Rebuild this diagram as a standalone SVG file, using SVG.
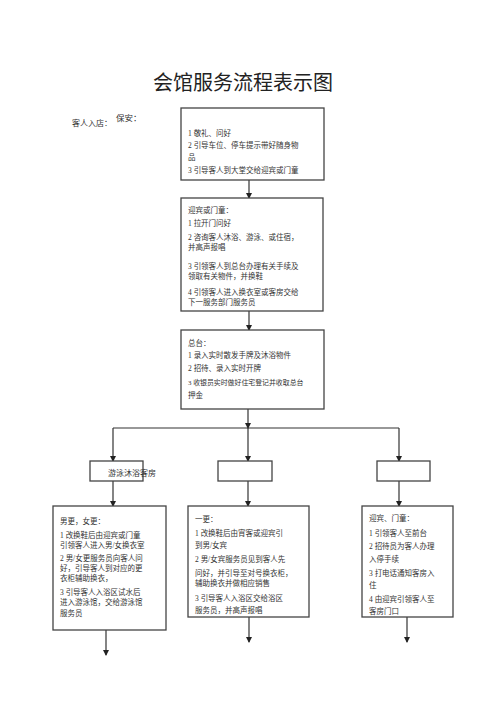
<svg xmlns="http://www.w3.org/2000/svg" width="500" height="708" viewBox="0 0 500 708">
<defs>
<marker id="ah" markerWidth="6" markerHeight="6" refX="5" refY="3" orient="auto" markerUnits="userSpaceOnUse">
<path d="M0,0 L6,3 L0,6 z" fill="#222"/>
</marker>
<style>
.box{fill:#fff;stroke:#444;stroke-width:1.3}
.t{font-family:"Liberation Serif","Noto Sans CJK SC",serif;fill:#333;font-size:7.5px}
.s{font-size:6.9px}
.c{stroke:#333;stroke-width:1.2;fill:none}
.a{marker-end:url(#ah)}
</style>
</defs>
<rect width="500" height="708" fill="#fff"/>
<text x="243" y="90" text-anchor="middle" font-family="Liberation Serif,'Noto Sans CJK SC',serif" font-size="20" fill="#222">会馆服务流程表示图</text>
<text x="72" y="126" class="t" style="font-size:8px">客人入店：</text>
<text x="116" y="121" class="t" style="font-size:8.5px">保安：</text>

<g id="connectors">
<line class="c a" x1="249" y1="180" x2="249" y2="198"/>
<line class="c a" x1="249" y1="311" x2="249" y2="330"/>
<line class="c a" x1="248" y1="409" x2="248" y2="428"/>
<line class="c" x1="113" y1="428" x2="399" y2="428"/>
<line class="c a" x1="113" y1="428" x2="113" y2="461"/>
<line class="c a" x1="248" y1="428" x2="248" y2="461"/>
<line class="c a" x1="399" y1="428" x2="399" y2="461"/>
<line class="c a" x1="113" y1="481" x2="113" y2="506"/>
<line class="c a" x1="248" y1="481" x2="248" y2="506"/>
<line class="c a" x1="399" y1="481" x2="399" y2="506"/>
<line class="c a" x1="106" y1="630" x2="106" y2="655"/>
<line class="c a" x1="249" y1="617" x2="249" y2="642"/>
<line class="c a" x1="407" y1="617" x2="407" y2="642"/>
</g>

<g id="box1">
<rect class="box" x="181" y="108" width="143" height="72"/>
<text class="t" x="188" y="136">1 敬礼、问好</text>
<text class="t" x="188" y="148">2 引导车位、停车提示带好随身物</text>
<text class="t" x="188" y="160">品</text>
<text class="t" x="188" y="173">3 引导客人到大堂交给迎宾或门童</text>
</g>

<g id="box2">
<rect class="box" x="181" y="198" width="142" height="113"/>
<text class="t" x="188" y="213">迎宾或门童：</text>
<text class="t" x="188" y="226">1 拉开门问好</text>
<text class="t" x="188" y="240">2 咨询客人沐浴、游泳、或住宿，</text>
<text class="t" x="188" y="250">并高声报唱</text>
<text class="t" x="188" y="269">3 引领客人到总台办理有关手续及</text>
<text class="t" x="188" y="279">领取有关物件，并换鞋</text>
<text class="t" x="188" y="295">4 引领客人进入换衣室或客房交给</text>
<text class="t" x="188" y="305">下一服务部门服务员</text>
</g>

<g id="box3">
<rect class="box" x="181" y="330" width="143" height="79"/>
<text class="t" x="188" y="346">总台：</text>
<text class="t" x="188" y="358">1 录入实时散发手牌及沐浴物件</text>
<text class="t" x="188" y="371">2 招待、录入实时开牌</text>
<text class="t s" x="188" y="385">3 收银员实时做好住宅登记并收取总台</text>
<text class="t" x="188" y="398">押金</text>
</g>

<g id="boxA">
<rect class="box" x="90" y="461" width="53" height="20"/>
<text class="t" x="108" y="476" style="font-size:8px">游泳沐浴客房</text>
</g>
<g id="boxB">
<rect class="box" x="218" y="461" width="54" height="20"/>
</g>
<g id="boxC">
<rect class="box" x="377" y="461" width="53" height="20"/>
</g>

<g id="box4">
<rect class="box" x="53" y="506" width="113" height="124"/>
<text class="t" x="60" y="524">男更，女更：</text>
<text class="t" x="60" y="538">1 改换鞋后由迎宾或门童</text>
<text class="t" x="60" y="548">引领客人进入男/女换衣室</text>
<text class="t" x="60" y="561">2 男/女更服务员向客人问</text>
<text class="t" x="60" y="571">好，引导客人到对应的更</text>
<text class="t" x="60" y="581">衣柜辅助换衣，</text>
<text class="t" x="60" y="595">3 引导客人入浴区试水后</text>
<text class="t" x="60" y="605">进入游泳馆，交给游泳馆</text>
<text class="t" x="60" y="616">服务员</text>
</g>

<g id="box5">
<rect class="box" x="188" y="506" width="121" height="111"/>
<text class="t" x="195" y="522">一更：</text>
<text class="t" x="195" y="536">1 改换鞋后由宵客或迎宾引</text>
<text class="t" x="195" y="548">到男/女宾</text>
<text class="t" x="195" y="562">2 男/女宾服务员见到客人先</text>
<text class="t" x="195" y="576">问好，并引导至对号换衣柜，</text>
<text class="t" x="195" y="586">辅助换衣并做相应销售</text>
<text class="t" x="195" y="601">3 引导客人入浴区交给浴区</text>
<text class="t" x="195" y="613">服务员，并高声报唱</text>
</g>

<g id="box6">
<rect class="box" x="362" y="506" width="91" height="111"/>
<text class="t" x="369" y="521">迎宾、门童：</text>
<text class="t" x="369" y="536">1 引领客人至前台</text>
<text class="t" x="369" y="549">2 招待员为客人办理</text>
<text class="t" x="369" y="562">入停手续</text>
<text class="t" x="369" y="576">3 打电话通知客房入</text>
<text class="t" x="369" y="588">住</text>
<text class="t" x="369" y="602">4 由迎宾引领客人至</text>
<text class="t" x="369" y="614">客房门口</text>
</g>
</svg>
